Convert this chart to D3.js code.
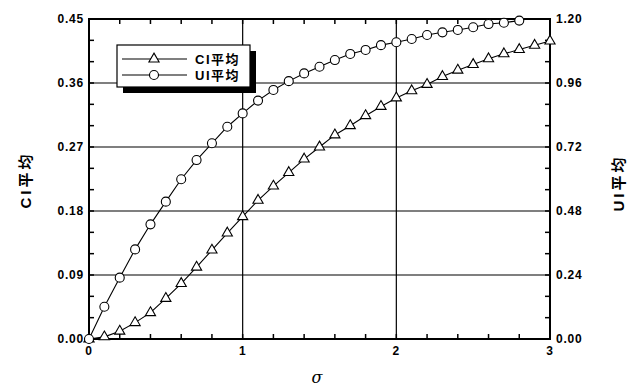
<!DOCTYPE html>
<html>
<head>
<meta charset="utf-8">
<script src="https://cdn.jsdelivr.net/npm/d3@7"></script>
<style>
  body { margin: 0; background: #fff; }
  svg text { font-family: "Liberation Sans", Arial, "Noto Sans CJK SC", sans-serif; fill: #000; }
</style>
</head>
<body>
<svg id="chart" width="627" height="389"></svg>
<script>
// sigma steps
const sigmaCI = [0, 0.1, 0.2, 0.3, 0.4, 0.5, 0.6, 0.7, 0.8, 0.9, 1.0, 1.1, 1.2, 1.3, 1.4, 1.5,
  1.6, 1.7, 1.8, 1.9, 2.0, 2.1, 2.2, 2.3, 2.4, 2.5, 2.6, 2.7, 2.8, 2.9, 3.0];
const ciMean = [0, 0.003, 0.011, 0.023, 0.037, 0.057, 0.078, 0.101, 0.125, 0.149, 0.172, 0.195,
  0.215, 0.234, 0.253, 0.270, 0.287, 0.300, 0.314, 0.327, 0.339, 0.349, 0.358, 0.369, 0.378,
  0.386, 0.394, 0.401, 0.407, 0.413, 0.419];

const sigmaUI = [0, 0.1, 0.2, 0.3, 0.4, 0.5, 0.6, 0.7, 0.8, 0.9, 1.0, 1.1, 1.2, 1.3, 1.4, 1.5,
  1.6, 1.7, 1.8, 1.9, 2.0, 2.1, 2.2, 2.3, 2.4, 2.5, 2.6, 2.7, 2.8];
const uiMean = [0, 0.121, 0.230, 0.336, 0.430, 0.515, 0.599, 0.671, 0.734, 0.796, 0.846, 0.894,
  0.934, 0.967, 0.996, 1.021, 1.046, 1.069, 1.084, 1.102, 1.113, 1.125, 1.140, 1.150, 1.159,
  1.169, 1.181, 1.186, 1.194];

const xTicks = [0, 1, 2, 3];
const leftTicks = [0, 0.09, 0.18, 0.27, 0.36, 0.45];
const rightTicks = [0, 0.24, 0.48, 0.72, 0.96, 1.20];
const legendNames = ['CI平均', 'UI平均'];

const margin = { left: 89, right: 77, top: 19, bottom: 50 };
const width = 627, height = 389;

const svg = d3.select('#chart');

const x = d3.scaleLinear().domain([0, 3]).range([margin.left, width - margin.right]);
const yL = d3.scaleLinear().domain([0, 0.45]).range([height - margin.bottom, margin.top]);
const yR = d3.scaleLinear().domain([0, 1.2]).range([height - margin.bottom, margin.top]);

const x0 = x(0), x1 = x(3), y0 = yL(0), y1 = yL(0.45);

// grid lines
const grid = svg.append('g').attr('stroke', '#000').attr('stroke-width', 1.2);
grid.selectAll('.hg').data(leftTicks.slice(1, -1)).enter().append('line')
  .attr('x1', x0).attr('x2', x1)
  .attr('y1', d => yL(d)).attr('y2', d => yL(d));
grid.selectAll('.vg').data(xTicks.slice(1, -1)).enter().append('line')
  .attr('y1', y0).attr('y2', y1)
  .attr('x1', d => x(d)).attr('x2', d => x(d));

// minor ticks (inward)
const minorX = d3.range(0, 3.001, 0.2);
const minorL = d3.range(0, 0.4501, 0.03);
const minorR = d3.range(0, 1.2001, 0.08);
const tk = svg.append('g').attr('stroke', '#000').attr('stroke-width', 1.5);
tk.selectAll('.bt').data(minorX).enter().append('line')
  .attr('x1', d => x(d)).attr('x2', d => x(d)).attr('y1', y0).attr('y2', y0 - 5);
tk.selectAll('.tt').data(minorX).enter().append('line')
  .attr('x1', d => x(d)).attr('x2', d => x(d)).attr('y1', y1).attr('y2', y1 + 5);
tk.selectAll('.lt').data(minorL).enter().append('line')
  .attr('x1', x0).attr('x2', x0 + 5).attr('y1', d => yL(d)).attr('y2', d => yL(d));
tk.selectAll('.rt').data(minorR).enter().append('line')
  .attr('x1', x1).attr('x2', x1 - 5).attr('y1', d => yR(d)).attr('y2', d => yR(d));

// frame
svg.append('rect')
  .attr('x', x0).attr('y', y1).attr('width', x1 - x0).attr('height', y0 - y1)
  .attr('fill', 'none').attr('stroke', '#000').attr('stroke-width', 2);

// tick labels
const lab = svg.append('g').style('font-size', '12px').style('font-weight', 'bold')
  .style('letter-spacing', '0.8px');
lab.selectAll('.lx').data(xTicks).enter().append('text')
  .attr('x', d => x(d)).attr('y', y0 + 16).attr('text-anchor', 'middle')
  .text(d => d);
lab.selectAll('.ll').data(leftTicks).enter().append('text')
  .attr('x', x0 - 5).attr('y', d => yL(d) + 4).attr('text-anchor', 'end')
  .text(d => d.toFixed(2));
lab.selectAll('.lr').data(rightTicks).enter().append('text')
  .attr('x', x1 + 6).attr('y', d => yR(d) + 4).attr('text-anchor', 'start')
  .text(d => d.toFixed(2));

// axis titles
svg.append('text')
  .attr('transform', 'translate(' + 31 + ',' + 180 + ') rotate(-90)')
  .attr('text-anchor', 'middle').style('font-size', '15px').style('font-weight', 'bold')
  .style('letter-spacing', '3px')
  .text(legendNames[0]);
svg.append('text')
  .attr('transform', 'translate(' + 624 + ',' + 183 + ') rotate(-90)')
  .attr('text-anchor', 'middle').style('font-size', '15px').style('font-weight', 'bold')
  .style('letter-spacing', '3px')
  .text(legendNames[1]);
svg.append('text')
  .attr('x', 317).attr('y', 383).attr('text-anchor', 'middle')
  .style('font-size', '16px').style('font-style', 'italic')
  .style('font-family', '"DejaVu Serif", serif')
  .text('σ');

// series
const ciData = sigmaCI.map((s, i) => [s, ciMean[i]]);
const uiData = sigmaUI.map((s, i) => [s, uiMean[i]]);

const lineL = d3.line().x(d => x(d[0])).y(d => yL(d[1]));
const lineR = d3.line().x(d => x(d[0])).y(d => yR(d[1]));

svg.append('path').datum(ciData).attr('d', lineL)
  .attr('fill', 'none').attr('stroke', '#000').attr('stroke-width', 1.1);
svg.append('path').datum(uiData).attr('d', lineR)
  .attr('fill', 'none').attr('stroke', '#000').attr('stroke-width', 1.1);

const tri = d3.symbol().type(d3.symbolTriangle).size(45);

svg.selectAll('.ci').data(ciData).enter().append('path')
  .attr('d', tri)
  .attr('transform', d => 'translate(' + x(d[0]) + ',' + yL(d[1]) + ')')
  .attr('fill', '#fff').attr('stroke', '#000').attr('stroke-width', 1.1);

svg.selectAll('.ui').data(uiData).enter().append('circle')
  .attr('cx', d => x(d[0])).attr('cy', d => yR(d[1])).attr('r', 4.5)
  .attr('fill', '#fff').attr('stroke', '#000').attr('stroke-width', 1.1);

// legend
const lg = svg.append('g');
lg.append('rect').attr('x', 123).attr('y', 51).attr('width', 133).attr('height', 42).attr('fill', '#000');
lg.append('rect').attr('x', 117).attr('y', 45).attr('width', 133).attr('height', 42)
  .attr('fill', '#fff').attr('stroke', '#000').attr('stroke-width', 1.2);
const rows = [59, 75];
rows.forEach((ry, i) => {
  lg.append('line').attr('x1', 122).attr('x2', 187).attr('y1', ry).attr('y2', ry)
    .attr('stroke', '#000').attr('stroke-width', 1.1);
  if (i === 0) {
    lg.append('path').attr('d', tri).attr('transform', 'translate(154,' + ry + ')')
      .attr('fill', '#fff').attr('stroke', '#000').attr('stroke-width', 1.1);
  } else {
    lg.append('circle').attr('cx', 154).attr('cy', ry).attr('r', 4.5)
      .attr('fill', '#fff').attr('stroke', '#000').attr('stroke-width', 1.1);
  }
  lg.append('text').attr('x', 195).attr('y', ry + 5)
    .style('font-size', '13px').style('font-weight', 'bold').style('letter-spacing', '1.5px')
    .text(legendNames[i]);
});
</script>
</body>
</html>
